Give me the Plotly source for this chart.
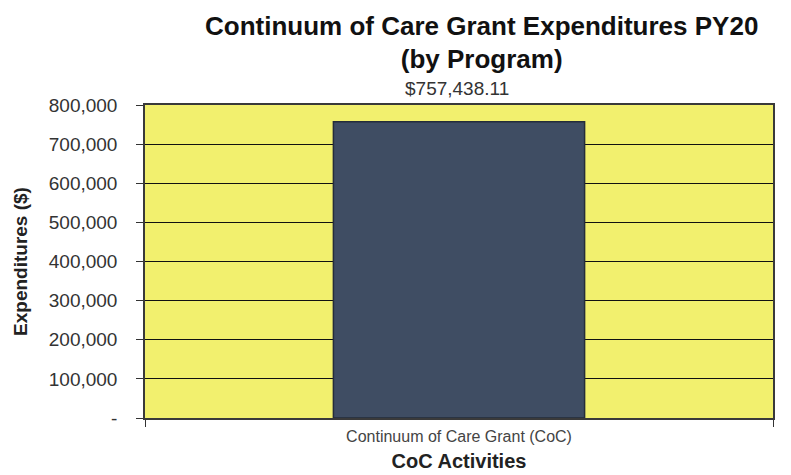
import plotly.graph_objects as go

categories = ["Continuum of Care Grant (CoC)"]
expenditures = [757438.11]
value_labels = ["$757,438.11"]
y_tick_values = [0, 100000, 200000, 300000, 400000, 500000, 600000, 700000, 800000]
y_tick_labels = ["-", "100,000", "200,000", "300,000", "400,000", "500,000", "600,000", "700,000", "800,000"]

FONT = "Liberation Sans, Arial, sans-serif"

fig = go.Figure()
fig.add_trace(go.Bar(
    x=categories,
    y=expenditures,
    marker=dict(color="#3f4d63", line=dict(color="#252d3a", width=1.5)),
    width=0.4,
    hoverinfo="skip",
))

for c, v, t in zip(categories, expenditures, value_labels):
    fig.add_annotation(x=c, y=v, text=t, showarrow=False, yshift=33, xshift=-2,
                       font=dict(family=FONT, size=19, color="#333333"))

fig.update_layout(
    width=783, height=467,
    margin=dict(l=137, r=18, t=97, b=57, autoexpand=False),
    paper_bgcolor="white",
    plot_bgcolor="#f2f06e",
    showlegend=False,
    title=dict(
        text="<b>Continuum of Care Grant Expenditures PY20<br>(by Program)</b>",
        x=0.605, xanchor="center", y=0.943, yanchor="middle", yref="container",
        font=dict(family=FONT, size=26, color="#111111"),
    ),
    font=dict(family=FONT, color="#222222"),
)
fig.update_xaxes(
    type="category", automargin=False,
    tickson="boundaries", ticks="outside", ticklen=7, tickcolor="#333333",
    ticklabelstandoff=3,
    showline=True, linecolor="#3a3a3a", linewidth=1.5, mirror=True,
    showgrid=False,
    tickfont=dict(family=FONT, size=16, color="#444444"),
    title=dict(text="<b>CoC Activities</b>", font=dict(family=FONT, size=20, color="#222222"), standoff=10),
)
fig.update_yaxes(
    range=[0, 800000], automargin=False,
    tickvals=y_tick_values, ticktext=y_tick_labels,
    ticks="outside", ticklen=7, tickcolor="#333333", ticklabelstandoff=15,
    showline=True, linecolor="#3a3a3a", linewidth=1.5, mirror=True,
    showgrid=True, gridcolor="#111111", gridwidth=1,
    zeroline=False,
    tickfont=dict(family=FONT, size=19, color="#333333"),
    title=dict(text="<b>Expenditures ($)</b>", font=dict(family=FONT, size=19, color="#222222"), standoff=16),
)

fig.write_html("out.html")
